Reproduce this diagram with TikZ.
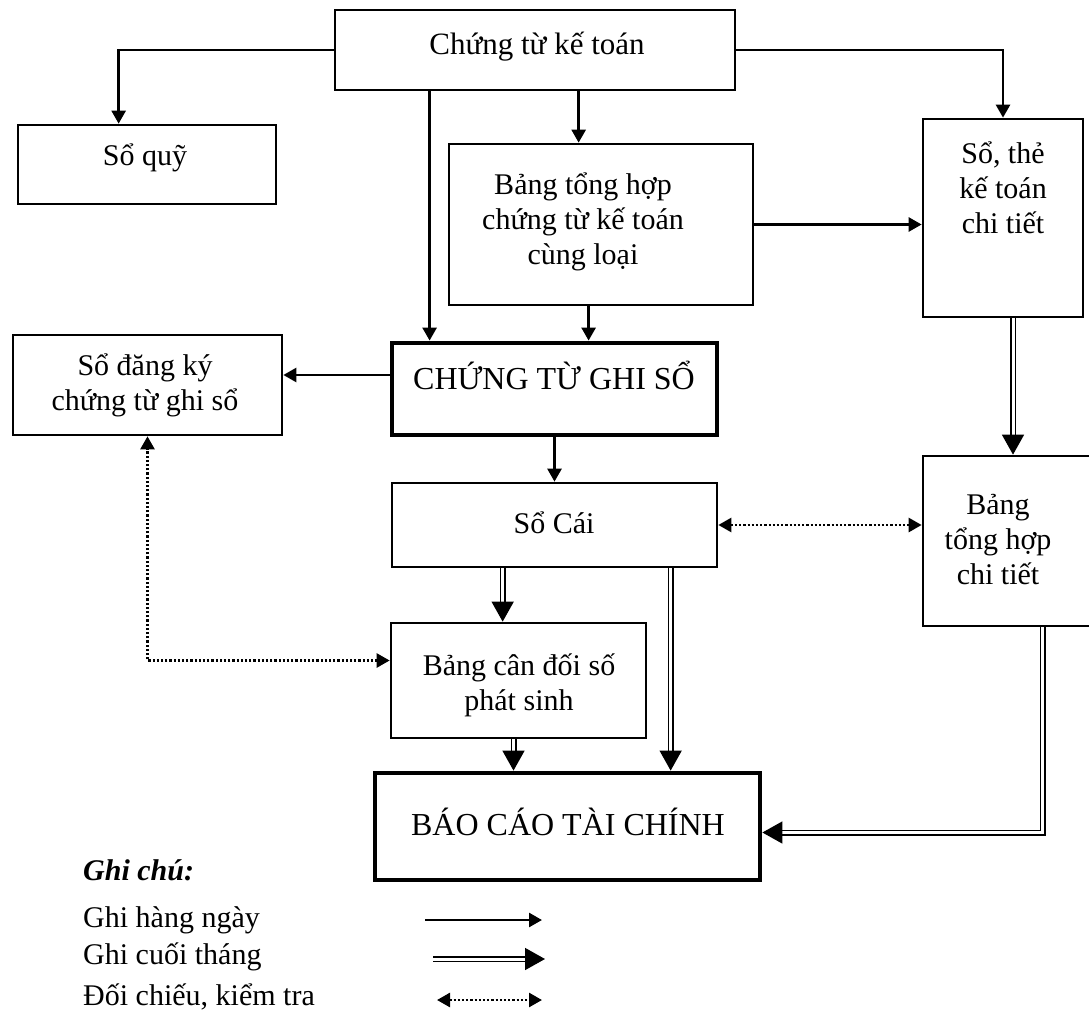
\documentclass[tikz,border=0pt]{standalone}
\usepackage{fontspec}
\setmainfont{Liberation Serif}
\usetikzlibrary{arrows.meta,calc}
\begin{document}
\begin{tikzpicture}[x=1pt,y=-1pt,
  box/.style={draw, line width=2.7pt, inner sep=0pt},
  tbox/.style={draw, line width=4.8pt, inner sep=0pt},
  txt/.style={font=\fontsize{30}{35}\selectfont, align=center, inner sep=0pt},
  ctxt/.style={font=\fontsize{32}{38}\selectfont, inner sep=0pt},
  arr/.style={line width=2.6pt, -{Triangle[length=13pt,width=14pt]}},
  dbl/.style={double, line width=1.5pt, double distance=3pt, -{Triangle[length=20pt,width=22pt]}},
  dotarr/.style={line width=2.6pt, dash pattern=on 2.2pt off 2pt, {Triangle[length=13pt,width=14pt]}-{Triangle[length=13pt,width=14pt]}},
]
\clip (0,0) rectangle (1089,1011);
\fill[white] (0,0) rectangle (1089,1011);

% boxes
\node[box, minimum width=400pt, minimum height=80pt] (ctkt) at (535,50) {};
\node[box, minimum width=258pt, minimum height=79pt] (soquy) at (147,164.5) {};
\node[box, minimum width=304pt, minimum height=161pt] (bthctu) at (601,224.5) {};
\node[box, minimum width=160pt, minimum height=198pt] (sothe) at (1003,218) {};
\node[box, minimum width=269pt, minimum height=100pt] (sodk) at (147.5,385) {};
\node[tbox, minimum width=325pt, minimum height=92pt] (ctgs) at (554.5,389) {};
\node[box, minimum width=325pt, minimum height=84pt] (socai) at (554.5,525) {};
\node[box, minimum width=177pt, minimum height=170pt] (bthct) at (1011.5,541) {};
\node[box, minimum width=255pt, minimum height=115pt] (bcd) at (518.5,680.5) {};
\node[tbox, minimum width=385pt, minimum height=107pt] (bctc) at (567.5,826.5) {};

% texts
\node[txt, font=\fontsize{31}{36}\selectfont] (ctktT) at (537,47) {Chứng từ kế toán};
\node[txt] (soquyT) at (145,158) {Sổ quỹ};
\node[txt] (bthctuT) at (583,222) {Bảng tổng hợp\\chứng từ kế toán\\cùng loại};
\node[txt] (sotheT) at (1003,188) {Sổ, thẻ\\kế toán\\chi tiết};
\node[txt] (sodkT) at (145,385) {Sổ đăng ký\\chứng từ ghi sổ};
\node[ctxt] (ctgsT) at (554,375) {CHỨNG TỪ GHI SỔ};
\node[txt] (socaiT) at (554,523) {Sổ Cái};
\node[txt] (bthctT) at (998,540) {Bảng\\tổng hợp\\chi tiết};
\node[txt] (bcdT) at (519,685) {Bảng cân đối số\\phát sinh};
\node[ctxt] (bctcT) at (568,822) {BÁO CÁO TÀI CHÍNH};

% connectors
\coordinate (a1) at ([xshift=102pt]soquy.north west);
\draw[arr] (ctkt.west) -| (a1);
\draw[arr] (ctkt.east) -| (sothe.north);
\coordinate (a2) at ([xshift=40pt]ctgs.north west);
\draw[arr] (ctkt.south -| a2) -- (a2);
\coordinate (a3) at ([xshift=131pt]bthctu.north west);
\draw[arr] (ctkt.south -| a3) -- (a3);
\coordinate (a4) at ([xshift=199pt]ctgs.north west);
\draw[arr] (bthctu.south -| a4) -- (a4);
\draw[arr] (bthctu.east) -- (bthctu.east -| sothe.west);
\draw[arr] ([yshift=14pt]ctgs.west) -- ([yshift=14pt]ctgs.west -| sodk.east);
\draw[arr] (ctgs.south) -- (socai.north);
\coordinate (a5) at ([xshift=112pt]socai.south west);
\draw[dbl] (a5) -- (a5 |- bcd.north);
\coordinate (a6) at ([xshift=280pt]socai.south west);
\draw[dbl] (a6) -- (a6 |- bctc.north);
\draw[dbl] ([xshift=-5pt]bcd.south) -- ([xshift=-5pt]bcd.south |- bctc.north);
\draw[dbl] ([xshift=10pt]sothe.south) -- ([xshift=10pt]sothe.south |- bthct.north);
\coordinate (a7) at ([xshift=121pt]bthct.south west);
\draw[dbl] (a7) |- ([yshift=-6pt]bctc.east);
\draw[dotarr] (socai.east) -- (socai.east -| bthct.west);
\draw[dotarr] ([yshift=20pt]bcd.west) -| (sodk.south);

% legend
\node[txt, anchor=west] (gc) at (83,870) {\textbf{\textit{Ghi chú:}}};
\node[txt, anchor=west] (l1) at (83,920) {Ghi hàng ngày};
\node[txt, anchor=west] (l2) at (83,957) {Ghi cuối tháng};
\node[txt, anchor=west] (l3) at (83,997) {Đối chiếu, kiểm tra};
\coordinate (l1a) at (425,920); \coordinate (l1b) at (542,920);
\coordinate (l2a) at (433,959); \coordinate (l2b) at (545,959);
\coordinate (l3a) at (437,1000); \coordinate (l3b) at (542,1000);
\draw[arr] (l1a) -- (l1b);
\draw[dbl] (l2a) -- (l2b);
\draw[dotarr] (l3a) -- (l3b);
\end{tikzpicture}
\end{document}
